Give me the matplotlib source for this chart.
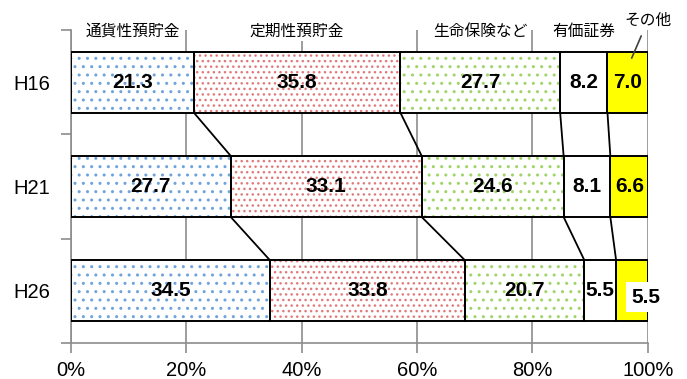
import matplotlib.pyplot as plt
import numpy as np

plt.rcParams['font.family'] = ['Liberation Sans', 'Noto Sans CJK JP']
plt.rcParams['hatch.linewidth'] = 1.0

# data (share of household financial assets, %)
years = ['H16', 'H21', 'H26']
categories = ['通貨性預貯金', '定期性預貯金', '生命保険など', '有価証券', 'その他']
currency_deposits = [21.3, 27.7, 34.5]
time_deposits = [35.8, 33.1, 33.8]
insurance = [27.7, 24.6, 20.7]
securities = [8.2, 8.1, 5.5]
other = [7.0, 6.6, 5.5]
x_ticks = [0, 20, 40, 60, 80, 100]

series = [currency_deposits, time_deposits, insurance, securities, other]
# face colour, hatch, hatch colour
styles = [
    ('white', '..', '#6fa3dc'),
    ('white', '...', '#e07a7a'),
    ('white', '..', '#9fd468'),
    ('white', '', 'black'),
    ('#ffff00', '', 'black'),
]

BAR_H = 0.585
GRID = '#8c8c8c'

fig = plt.figure(figsize=(6.87, 3.79), dpi=100)
ax = fig.add_axes([0.1033, 0.095, 0.8397, 0.826])

y = np.arange(len(years))
vals = np.array(series)            # (n_cat, n_year)
lefts = np.vstack([np.zeros(len(years)), np.cumsum(vals, axis=0)[:-1]])
rights = lefts + vals

for k, (face, hatch, hcol) in enumerate(styles):
    ax.barh(y, vals[k], left=lefts[k], height=BAR_H, color=face,
            hatch=hatch, edgecolor=hcol, linewidth=0, zorder=2)
    ax.barh(y, vals[k], left=lefts[k], height=BAR_H, fill=False,
            edgecolor='black', linewidth=1.4, zorder=3)

# connector lines between consecutive years
for i in range(len(years) - 1):
    for k in range(len(series) - 1):
        ax.plot([rights[k, i], rights[k, i + 1]],
                [y[i] + BAR_H / 2, y[i + 1] - BAR_H / 2],
                color='black', lw=1.3, zorder=3, solid_capstyle='butt')

# value labels
for k in range(len(series)):
    for i in range(len(years)):
        cx = lefts[k, i] + vals[k, i] / 2
        cy = y[i]
        bbox = None
        if k == len(series) - 1 and i == len(years) - 1:
            cx = rights[k, i] - 0.3
            cy = y[i] + 0.06
            bbox = dict(facecolor='white', edgecolor='none', pad=4)
        ax.text(cx, cy, f'{vals[k, i]:.1f}', ha='center', va='center',
                fontsize=15, fontweight='bold', zorder=4, bbox=bbox,
                clip_on=False)

# category labels above the first bar
for k in range(len(series) - 1):
    cx = lefts[k, 0] + vals[k, 0] / 2
    ax.text(cx, -0.49, categories[k], ha='center', va='center', fontsize=11.3,
            zorder=4, clip_on=False,
            bbox=dict(facecolor='white', edgecolor='none', pad=1.5))
ax.annotate(categories[-1], xy=(rights[-2, 0] + vals[-1, 0] * 0.6, -0.23),
            xytext=(100, -0.59), ha='center', va='center', fontsize=11.3,
            annotation_clip=False, zorder=4,
            arrowprops=dict(arrowstyle='-', color='#404040', lw=1.2,
                            shrinkA=4, shrinkB=0))

ax.set_xlim(0, 100)
ax.set_ylim(2.5, -0.5)
ax.set_xticks(x_ticks)
ax.set_xticklabels([f'{t}%' for t in x_ticks], fontsize=14.5)
ax.set_yticks(np.arange(len(years) + 1) - 0.5)
ax.set_yticklabels([])
ax.set_yticks(y, minor=True)
ax.set_yticklabels(years, minor=True, fontsize=14.5)
ax.tick_params(axis='y', which='minor', length=0, pad=15)
ax.tick_params(axis='both', which='major', length=7, width=1.2, color=GRID)
ax.tick_params(axis='x', pad=6)

ax.xaxis.grid(True, color=GRID, lw=1.2, zorder=0)
ax.set_axisbelow(True)
for side in ('top', 'right'):
    ax.spines[side].set_visible(False)
for side in ('left', 'bottom'):
    ax.spines[side].set_color(GRID)
    ax.spines[side].set_linewidth(1.2)

fig.savefig('out.png', dpi=100)
